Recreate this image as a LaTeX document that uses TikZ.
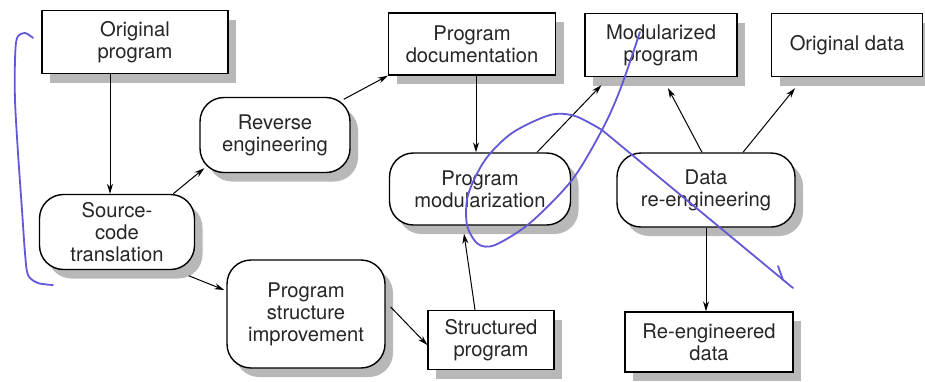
\documentclass[tikz,border=0pt]{standalone}
\usepackage{fontspec}
\setsansfont{TeX Gyre Heros}
\usepackage{xcolor}
\usetikzlibrary{arrows.meta,shadows}
\definecolor{inkblue}{RGB}{98,88,215}

\begin{document}
\begin{tikzpicture}[x=0.5pt, y=-0.5pt,
    every node/.style={font=\sffamily\fontsize{10.1}{11}\selectfont, text=black!85, align=center, inner sep=2pt},
    box/.style={draw, line width=0.7pt, fill=white,
      drop shadow={shadow xshift=4pt, shadow yshift=-4.5pt, fill=black!28, opacity=1}},
    roundbox/.style={box, rounded corners=12pt},
    arr/.style={-{Stealth[length=5pt,width=3pt]}, line width=0.5pt},
    scribble/.style={draw=inkblue, line width=0.9pt, line cap=round, line join=round}]
    \useasboundingbox (0,0) rectangle (925,381);

    \node[box, minimum width=93pt, minimum height=31.5pt] (orig) at (135,42) {Original\\program};
    \node[box, minimum width=83.5pt, minimum height=31pt] (progdoc) at (472,44) {Program\\documentation};
    \node[box, minimum width=76pt, minimum height=31.5pt] (modprog) at (661,45) {Modularized\\program};
    \node[box, minimum width=75.5pt, minimum height=31.5pt] (origdata) at (847,45) {Original data};

    \node[roundbox, minimum width=75pt, minimum height=37.5pt] (revenge) at (275,135) {Reverse\\engineering};
    \node[roundbox, minimum width=77.5pt, minimum height=37.5pt] (srctrans) at (117,232) {Source-\\code\\translation};
    \node[roundbox, minimum width=90.5pt, minimum height=36pt] (progmod) at (480,189) {Program\\modularization};
    \node[roundbox, minimum width=89pt, minimum height=37pt] (datare) at (706,190) {Data\\re-engineering};
    \node[roundbox, minimum width=79pt, minimum height=54pt] (psi) at (306,314) {Program\\structure\\improvement};

    \node[box, minimum width=63pt, minimum height=29.5pt] (structprog) at (491,340) {Structured\\program};
    \node[box, minimum width=84pt, minimum height=30pt] (reengdata) at (709,342) {Re-engineered\\data};

    \draw[arr] ([xshift=-3.5pt]srctrans.north |- orig.south) -- ([xshift=-3.5pt]srctrans.north);
    \draw[arr] ([xshift=-11pt]srctrans.north east) -- ([xshift=2.5pt, yshift=2.5pt]revenge.south west);
    \draw[arr] ([xshift=-3.5pt, yshift=-1.25pt]revenge.north east) -- (progdoc.south west);
    \draw[arr] ([xshift=2pt]progdoc.south) -- ([xshift=2pt]progdoc.south |- progmod.north);
    \draw[arr] ([xshift=28.5pt]progmod.north) -- ([xshift=8.5pt, yshift=-4pt]modprog.south west);
    \draw[arr] ([xshift=-2pt]datare.north) -- ([xshift=3.5pt, yshift=-5.5pt]modprog.south);
    \draw[arr] ([xshift=18.5pt]datare.north) -- ([xshift=-26pt, yshift=-5.5pt]origdata.south);
    \draw[arr] (datare.south) -- (datare.south |- reengdata.north);
    \draw[arr] ([xshift=-3.25pt, yshift=-2.75pt]srctrans.south east) -- ([xshift=-1pt, yshift=12pt]psi.west);
    \draw[arr] ([xshift=2.5pt, yshift=3.5pt]psi.east) -- ([yshift=-2.5pt]structprog.west);
    \draw[arr] ([xshift=-8pt]structprog.north) -- ([xshift=-8pt, yshift=-4pt]progmod.south);

    \draw[scribble] plot[smooth] coordinates {(33,38) (25,33) (17,38) (15,60) (15,100) (18,153) (22,210) (25,253) (28,275) (38,283) (53,285)};
    \draw[scribble] plot[smooth] coordinates {(640,32) (620,90) (602,130) (572,180) (530,223) (495,245) (478,244) (467,225) (468,195) (485,160) (512,133) (550,115) (575,116) (602,130)};
    \draw[scribble] (602,130) -- (793,288);
    \draw[scribble] (778,266) -- (783,280);
\end{tikzpicture}
\end{document}
